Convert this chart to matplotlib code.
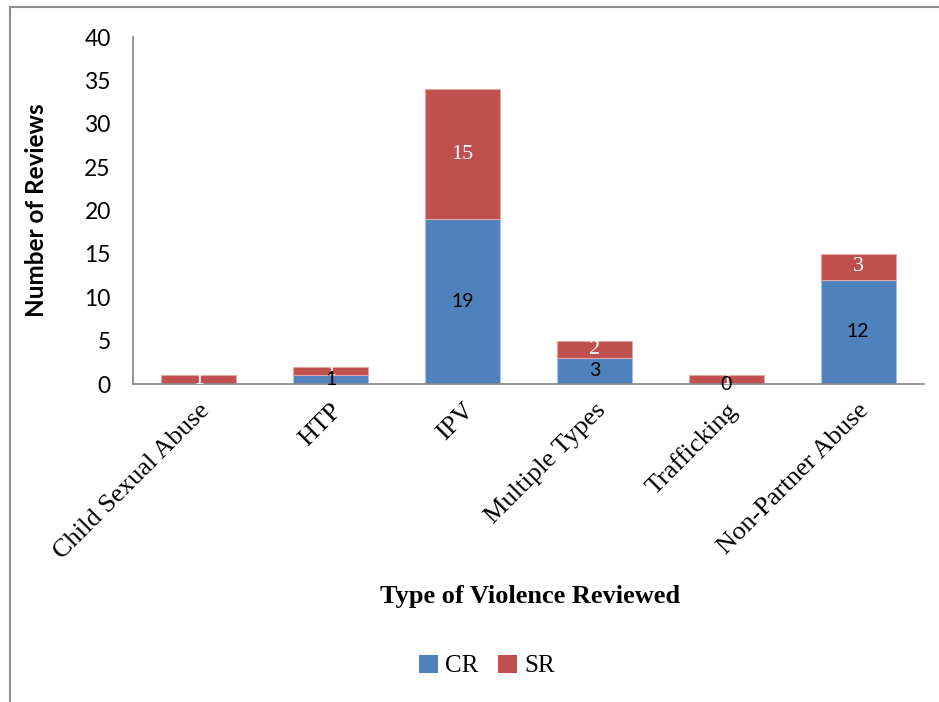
import matplotlib
matplotlib.use("Agg")
import matplotlib.pyplot as plt
from matplotlib.lines import Line2D
from matplotlib.patches import Patch
import numpy as np

categories = ["Child Sexual Abuse", "HTP", "IPV", "Multiple Types", "Trafficking", "Non-Partner Abuse"]
cr_values = [0, 1, 19, 3, 0, 12]
sr_values = [1, 1, 15, 2, 1, 3]
cr_labels = [None, "1", "19", "3", "0", "12"]
sr_labels = ["1", "1", "15", "2", "1", "3"]
y_ticks = [0, 5, 10, 15, 20, 25, 30, 35, 40]

CR_COLOR = "#4F81BD"
SR_COLOR = "#C0504D"
SANS = ["Lato", "DejaVu Sans"]
SERIF = ["Liberation Serif", "DejaVu Serif"]

fig = plt.figure(figsize=(9.39, 7.02), dpi=100)
ax = fig.add_axes([133/939, 1-384/702, (924-133)/939, (384-37)/702])

x = np.arange(len(categories))
w = 0.57
cr_bars = ax.bar(x, cr_values, w, color=CR_COLOR, edgecolor="#A9C0E0", linewidth=0.8, zorder=2)
sr_bars = ax.bar(x, sr_values, w, bottom=cr_values, color=SR_COLOR, edgecolor="#E0A8A6", linewidth=0.8, zorder=2)

for i in range(len(categories)):
    if cr_labels[i] is not None:
        ax.text(x[i], cr_values[i]/2, cr_labels[i], ha="center", va="center",
                fontsize=14, family=SANS, color="black", zorder=4)
    t = ax.text(x[i], cr_values[i] + sr_values[i]/2, sr_labels[i], ha="center", va="center",
                fontsize=16, family=SERIF, color="white", zorder=3)
    if sr_values[i] <= 1:
        t.set_clip_path(sr_bars[i])

ax.set_xlim(-0.5, len(categories)-0.5)
ax.set_ylim(0, 40)
ax.set_yticks(y_ticks)
ax.set_yticklabels([str(v) for v in y_ticks], family=SANS, fontsize=16.5)
ax.tick_params(axis="y", length=0, pad=16)
ax.set_xticks(x)
ax.set_xticklabels(categories, rotation=45, ha="right", va="top", rotation_mode="anchor",
                   family=SERIF, fontsize=19)
ax.tick_params(axis="x", length=0, pad=11)
for s in ["top", "right"]:
    ax.spines[s].set_visible(False)
for s in ["left", "bottom"]:
    ax.spines[s].set_color("#8C8C8C")
    ax.spines[s].set_linewidth(1.3)

ax.set_ylabel("Number of Reviews", family=SANS, fontsize=17.5, fontweight="bold", labelpad=0)
ax.yaxis.set_label_coords(-0.107, 0.5)
fig.text(530/939, 1-597/702, "Type of Violence Reviewed", ha="center", va="center",
         family=SERIF, fontsize=19, fontweight="bold")

handles = [Patch(facecolor=CR_COLOR, label="CR"), Patch(facecolor=SR_COLOR, label="SR")]
leg = fig.legend(handles=handles, loc="center", bbox_to_anchor=(487/939, 1-666/702), ncol=2,
                 frameon=False, prop={"family": SERIF, "size": 18},
                 handlelength=0.75, handleheight=0.75, handletextpad=0.3, columnspacing=0.8)

# outer frame (left and top edges)
fig.add_artist(Line2D([10/939, 10/939], [0, 1-7/702], color="#8C8C8C", linewidth=1.5, transform=fig.transFigure))
fig.add_artist(Line2D([10/939, 1], [1-7/702, 1-7/702], color="#8C8C8C", linewidth=1.5, transform=fig.transFigure))

fig.savefig("out.png", dpi=100)
